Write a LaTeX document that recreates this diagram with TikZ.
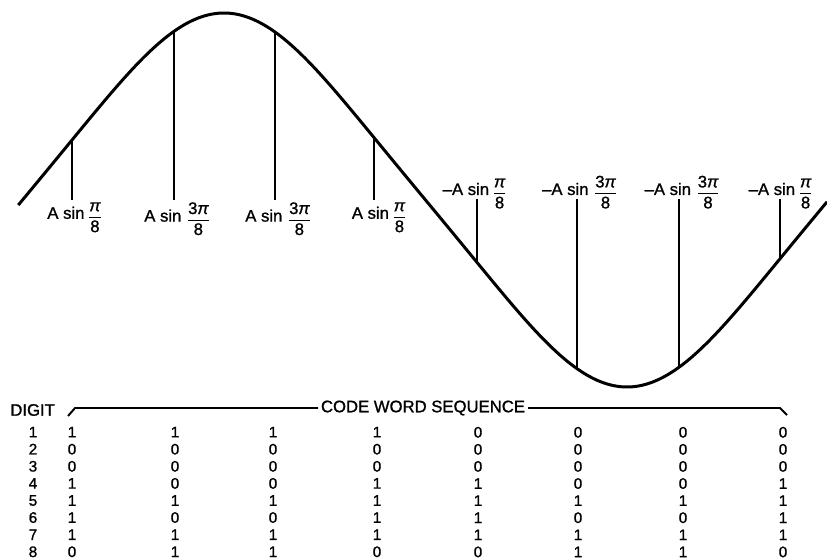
\documentclass[tikz,border=0pt]{standalone}
\usepackage{amsmath}
\usepackage{fontspec}
\setmainfont{Liberation Sans}[
  BoldFont={Liberation Sans}, BoldFeatures={FakeBold=1.1},
  BoldItalicFont={Liberation Sans Italic}, BoldItalicFeatures={FakeBold=1.1},
]
\usetikzlibrary{calc}
\newcommand{\pifrac}[1]{\raisebox{-1.5pt}{$\dfrac{\text{#1\itshape π}}{\text{8}}$}}
\tikzset{
  waveLine/.style={line width=1.7pt, line join=round},
  sampleLine/.style={line width=0.9pt},
  ampLabel/.style={inner sep=0pt, font=\fontsize{9.5}{11}\selectfont\bfseries},
  posLabel/.style={ampLabel, anchor=north},
  negLabel/.style={ampLabel, anchor=base},
  headText/.style={inner sep=0pt, font=\fontsize{9.5}{11}\selectfont\bfseries},
  bitCol/.style={
    inner sep=0pt, anchor=north, align=center,
    font=\fontsize{8.7}{9.73}\selectfont\bfseries,
  },
  braceLine/.style={line width=1.1pt, line join=round},
  declare function={
    phase(\x)=(\x-22.5)/806*360;
    curveY(\x)=200-187*(sin(phase(\x))-0.045*sin(3*phase(\x)))/1.045;
  },
}
\begin{document}
\begin{tikzpicture}[x=0.02cm, y=-0.02cm]
\useasboundingbox (0,0) rectangle (827,560);

% the sampled wave
\draw[waveLine] plot[domain=18.3:827, samples=180, smooth] (\x, {curveY(\x)});

\coordinate (s1) at (72, {curveY(72)});
\coordinate (s2) at (174, {curveY(174)});
\coordinate (s3) at (275, {curveY(275)});
\coordinate (s4) at (374, {curveY(374)});
\coordinate (s5) at (477, {curveY(477)});
\coordinate (s6) at (577, {curveY(577)});
\coordinate (s7) at (679, {curveY(679)});
\coordinate (s8) at (780, {curveY(780)});

\node[posLabel] (l1) at (75,202) {A sin\,\pifrac{}};
\node[posLabel] (l2) at (177.5,202) {A sin \pifrac{3}};
\node[posLabel] (l3) at (278.5,202) {A sin \pifrac{3}};
\node[posLabel] (l4) at (379.5,202) {A sin\,\pifrac{}};
\node[negLabel] (l5) at (475,195) {--A sin\,\pifrac{}};
\node[negLabel] (l6) at (580,195) {--A sin \pifrac{3}};
\node[negLabel] (l7) at (682.5,195) {--A sin \pifrac{3}};
\node[negLabel] (l8) at (781,195) {--A sin\,\pifrac{}};

\draw[sampleLine, shorten >=1pt] (s1) -- (s1 |- l1.north);
\draw[sampleLine, shorten >=1pt] (s2) -- (s2 |- l2.north);
\draw[sampleLine, shorten >=1pt] (s3) -- (s3 |- l3.north);
\draw[sampleLine, shorten >=1pt] (s4) -- (s4 |- l4.north);
\draw[sampleLine, shorten >=2.3pt] (s5) -- (s5 |- l5.base);
\draw[sampleLine, shorten >=2.3pt] (s6) -- (s6 |- l6.base);
\draw[sampleLine, shorten >=2.3pt] (s7) -- (s7 |- l7.base);
\draw[sampleLine, shorten >=2.3pt] (s8) -- (s8 |- l8.base);

% code word table
\node[headText, anchor=west] (digit) at (10,410) {DIGIT};
\node[headText, inner xsep=1.5pt] (seq) at (423,408) {CODE WORD SEQUENCE};
\coordinate (braceL) at (68,416);
\coordinate (braceR) at (787,415);
\draw[braceLine] (braceL) -- ++(7,-8) -- (seq.west);
\draw[braceLine] (seq.east) -- ($(braceR)+(-7,-7)$) -- (braceR);

\node[bitCol] (d0) at (33,426.5) {1\\2\\3\\4\\5\\6\\7\\8};
\node[bitCol] (w1) at (72,426.5) {1\\0\\0\\1\\1\\1\\1\\0};
\node[bitCol] (w2) at (175,426.5) {1\\0\\0\\0\\1\\0\\1\\1};
\node[bitCol] (w3) at (273,426.5) {1\\0\\0\\0\\1\\0\\1\\1};
\node[bitCol] (w4) at (377,426.5) {1\\0\\0\\1\\1\\1\\1\\0};
\node[bitCol] (w5) at (478,426.5) {0\\0\\0\\1\\1\\1\\1\\0};
\node[bitCol] (w6) at (578,426.5) {0\\0\\0\\0\\1\\0\\1\\1};
\node[bitCol] (w7) at (683,426.5) {0\\0\\0\\0\\1\\0\\1\\1};
\node[bitCol] (w8) at (783,426.5) {0\\0\\0\\1\\1\\1\\1\\0};

\end{tikzpicture}
\end{document}
